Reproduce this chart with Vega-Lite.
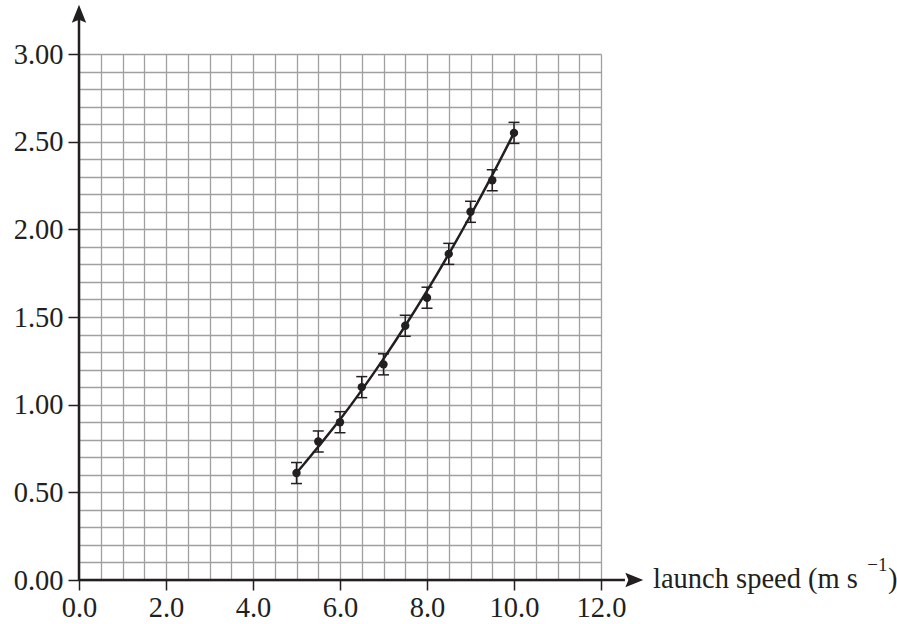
{
  "$schema": "https://vega.github.io/schema/vega-lite/v6.json",
  "width": 522,
  "height": 526,
  "autosize": {"type": "none"},
  "padding": {"left": 79, "top": 54, "right": 296, "bottom": 44},
  "background": "white",
  "config": {"view": {"stroke": null}},
  "datasets": {
    "points": [
      {"x": 5.0, "y": 0.61, "lo": 0.55, "hi": 0.67},
      {"x": 5.5, "y": 0.79, "lo": 0.73, "hi": 0.85},
      {"x": 6.0, "y": 0.90, "lo": 0.84, "hi": 0.96},
      {"x": 6.5, "y": 1.10, "lo": 1.04, "hi": 1.16},
      {"x": 7.0, "y": 1.23, "lo": 1.17, "hi": 1.29},
      {"x": 7.5, "y": 1.45, "lo": 1.39, "hi": 1.51},
      {"x": 8.0, "y": 1.61, "lo": 1.55, "hi": 1.67},
      {"x": 8.5, "y": 1.86, "lo": 1.80, "hi": 1.92},
      {"x": 9.0, "y": 2.10, "lo": 2.04, "hi": 2.16},
      {"x": 9.5, "y": 2.28, "lo": 2.22, "hi": 2.34},
      {"x": 10.0, "y": 2.55, "lo": 2.49, "hi": 2.61}
    ],
    "curve": [
      {"x": 5.0, "y": 0.61},
      {"x": 5.5, "y": 0.76},
      {"x": 6.0, "y": 0.915},
      {"x": 6.5, "y": 1.083},
      {"x": 7.0, "y": 1.261},
      {"x": 7.5, "y": 1.45},
      {"x": 8.0, "y": 1.649},
      {"x": 8.5, "y": 1.859},
      {"x": 9.0, "y": 2.079},
      {"x": 9.5, "y": 2.309},
      {"x": 10.0, "y": 2.55}
    ],
    "axes": [
      {"x": 0, "x2": 12.55, "y": 0, "y2": 0},
      {"x": 0, "x2": 0, "y": 0, "y2": 3.2}
    ],
    "arrows": [
      {"x": 0, "y": 3.222, "dir": "up"},
      {"x": 12.736, "y": 0, "dir": "right"}
    ],
    "title_main": [{"x": 13.195, "y": 0, "text": "launch speed (m s"}],
    "title_sup": [{"x": 18.12, "y": 0.051, "text": "−1"}],
    "title_end": [{"x": 18.6, "y": 0, "text": ")"}]
  },
  "encoding": {
    "x": {
      "field": "x",
      "type": "quantitative",
      "scale": {"domain": [0, 12], "nice": false, "zero": false},
      "axis": {
        "title": null,
        "values": [0, 0.5, 1, 1.5, 2, 2.5, 3, 3.5, 4, 4.5, 5, 5.5, 6, 6.5, 7, 7.5, 8, 8.5, 9, 9.5, 10, 10.5, 11, 11.5, 12],
        "domain": false,
        "grid": true,
        "gridColor": "#a0a0a0",
        "gridWidth": 1.3,
        "gridOpacity": 1,
        "tickColor": {"condition": {"test": "abs(datum.value/2 - round(datum.value/2)) < 0.001", "value": "#231f20"}, "value": "transparent"},
        "tickSize": 10,
        "tickWidth": 1.5,
        "labelExpr": "abs(datum.value/2 - round(datum.value/2)) < 0.001 ? format(datum.value, '.1f') : ''",
        "labelFont": "Liberation Serif",
        "labelFontSize": 28.5,
        "labelColor": "#231f20",
        "labelPadding": 3,
        "labelOverlap": false,
        "labelFlush": false,
        "labelBound": false
      }
    },
    "y": {
      "field": "y",
      "type": "quantitative",
      "scale": {"domain": [0, 3], "nice": false, "zero": false},
      "axis": {
        "title": null,
        "values": [0, 0.1, 0.2, 0.3, 0.4, 0.5, 0.6, 0.7, 0.8, 0.9, 1.0, 1.1, 1.2, 1.3, 1.4, 1.5, 1.6, 1.7, 1.8, 1.9, 2.0, 2.1, 2.2, 2.3, 2.4, 2.5, 2.6, 2.7, 2.8, 2.9, 3.0],
        "domain": false,
        "grid": true,
        "gridColor": "#a0a0a0",
        "gridWidth": 1.3,
        "gridOpacity": 1,
        "tickColor": {"condition": {"test": "abs(datum.value*2 - round(datum.value*2)) < 0.001", "value": "#231f20"}, "value": "transparent"},
        "tickSize": 11,
        "tickWidth": 1.5,
        "labelExpr": "abs(datum.value*2 - round(datum.value*2)) < 0.001 ? format(datum.value, '.2f') : ''",
        "labelFont": "Liberation Serif",
        "labelFontSize": 28.5,
        "labelColor": "#231f20",
        "labelPadding": 5,
        "labelOverlap": false,
        "labelFlush": false,
        "labelBound": false
      }
    }
  },
  "layer": [
    {
      "data": {"name": "axes"},
      "mark": {"type": "rule", "color": "#231f20", "strokeWidth": 2.5},
      "encoding": {"x2": {"field": "x2"}, "y2": {"field": "y2"}}
    },
    {
      "data": {"name": "arrows"},
      "mark": {"type": "point", "filled": true, "color": "#231f20", "opacity": 1, "size": 420},
      "encoding": {
        "shape": {
          "field": "dir",
          "type": "nominal",
          "scale": {"domain": ["up", "right"], "range": ["M0,-1 L0.7,0.75 L0,0.45 L-0.7,0.75 Z", "M1,0 L-0.75,0.7 L-0.45,0 L-0.75,-0.7 Z"]},
          "legend": null
        }
      }
    },
    {
      "data": {"name": "points"},
      "mark": {"type": "rule", "color": "#231f20", "strokeWidth": 1.5},
      "encoding": {
        "y": {
          "field": "lo",
          "type": "quantitative",
          "scale": {"domain": [0, 3], "nice": false, "zero": false},
          "axis": {
            "title": null,
            "values": [0, 0.1, 0.2, 0.3, 0.4, 0.5, 0.6, 0.7, 0.8, 0.9, 1.0, 1.1, 1.2, 1.3, 1.4, 1.5, 1.6, 1.7, 1.8, 1.9, 2.0, 2.1, 2.2, 2.3, 2.4, 2.5, 2.6, 2.7, 2.8, 2.9, 3.0],
            "domain": false,
            "grid": true,
            "gridColor": "#a0a0a0",
            "gridWidth": 1.3,
            "gridOpacity": 1,
            "tickColor": {"condition": {"test": "abs(datum.value*2 - round(datum.value*2)) < 0.001", "value": "#231f20"}, "value": "transparent"},
            "tickSize": 11,
            "tickWidth": 1.5,
            "labelExpr": "abs(datum.value*2 - round(datum.value*2)) < 0.001 ? format(datum.value, '.2f') : ''",
            "labelFont": "Liberation Serif",
            "labelFontSize": 28.5,
            "labelColor": "#231f20",
            "labelPadding": 5,
            "labelOverlap": false,
            "labelFlush": false,
            "labelBound": false
          }
        },
        "y2": {"field": "hi"}
      }
    },
    {
      "data": {"name": "points"},
      "transform": [{"fold": ["lo", "hi"], "as": ["k", "y"]}],
      "mark": {"type": "tick", "orient": "horizontal", "color": "#231f20", "size": 11, "thickness": 1.5, "opacity": 1}
    },
    {
      "data": {"name": "curve"},
      "mark": {"type": "line", "interpolate": "monotone", "color": "#231f20", "strokeWidth": 2.5}
    },
    {
      "data": {"name": "points"},
      "mark": {"type": "circle", "color": "#231f20", "opacity": 1, "size": 70}
    },
    {
      "data": {"name": "title_main"},
      "mark": {"type": "text", "align": "left", "baseline": "alphabetic", "dy": 8, "font": "Liberation Serif", "fontSize": 28.5, "color": "#231f20"},
      "encoding": {"text": {"field": "text"}}
    },
    {
      "data": {"name": "title_sup"},
      "mark": {"type": "text", "align": "left", "baseline": "alphabetic", "font": "Liberation Serif", "fontSize": 19, "color": "#231f20"},
      "encoding": {"text": {"field": "text"}}
    },
    {
      "data": {"name": "title_end"},
      "mark": {"type": "text", "align": "left", "baseline": "alphabetic", "dy": 8, "font": "Liberation Serif", "fontSize": 28.5, "color": "#231f20"},
      "encoding": {"text": {"field": "text"}}
    }
  ]
}
